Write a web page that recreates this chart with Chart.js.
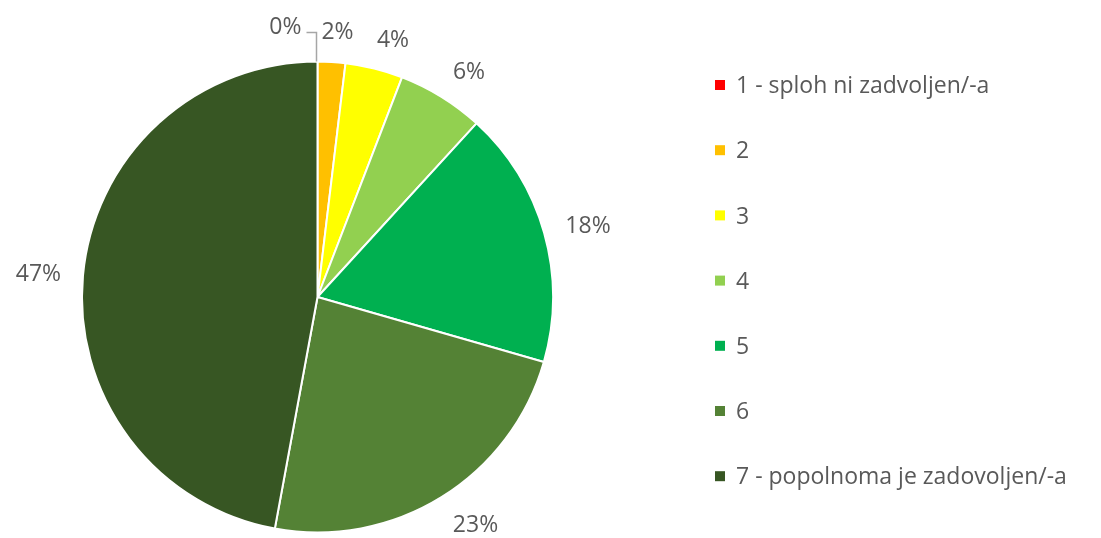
<!DOCTYPE html>
<html><head><meta charset="utf-8">
<script src="https://cdn.jsdelivr.net/npm/chart.js@4/dist/chart.umd.min.js"></script>
<style>html,body{margin:0;padding:0;background:#fff;}#wrap{width:1101px;height:538px;position:relative;}</style>
</head><body><div id="wrap"><canvas id="c" width="1101" height="538"></canvas></div>
<script>
const categories = ['1 - sploh ni zadvoljen/-a','2','3','4','5','6','7 - popolnoma je zadovoljen/-a'];
const values = [0, 1.9, 3.95, 5.95, 17.65, 23.45, 47.1];
const valueLabels = ['0%','2%','4%','6%','18%','23%','47%'];
const colors = ['#FF0000','#FFC000','#FFFF00','#92D050','#00B050','#548235','#375623'];

const FONT = '"Open Sans", sans-serif';
const TEXT = '#595959';
const FS = 23;
const CAP = FS * 0.714;

const labelPlugin = {
  id: 'outLabels',
  afterDatasetsDraw(chart) {
    const ctx = chart.ctx;
    const meta = chart.getDatasetMeta(0);
    ctx.save();
    ctx.font = FS + 'px ' + FONT;
    ctx.fillStyle = TEXT;
    ctx.textAlign = 'center';
    ctx.textBaseline = 'alphabetic';
    meta.data.forEach((arc, i) => {
      const p = arc.getProps(['x','y','startAngle','endAngle','outerRadius'], true);
      const mid = (p.startAngle + p.endAngle) / 2;
      const txt = valueLabels[i];
      const w = ctx.measureText(txt).width, h = 18;
      const dx = Math.cos(mid), dy = Math.sin(mid);
      if (values[i] === 0) {
        const x0 = p.x + dx * p.outerRadius, y0 = p.y + dy * p.outerRadius;
        const y1 = y0 - 29;
        ctx.strokeStyle = '#A6A6A6'; ctx.lineWidth = 1.5;
        ctx.beginPath(); ctx.moveTo(x0 - 1, y0); ctx.lineTo(x0 - 1, y1); ctx.lineTo(x0 - 11, y1); ctx.stroke();
        ctx.fillText(txt, x0 - 16 - w / 2, y1 - 7 + CAP / 2);
        return;
      }
      const r = p.outerRadius + 22;
      const a = Math.tanh(Math.abs(dx) * 5) * Math.sign(dx);
      const cx = p.x + dx * r + a * w / 2;
      const cy = p.y + dy * r + dy * h / 2;
      ctx.fillText(txt, cx, cy + CAP / 2);
    });
    ctx.restore();
  }
};

const legendPlugin = {
  id: 'sideLegend',
  afterDraw(chart) {
    const ctx = chart.ctx;
    ctx.save();
    ctx.font = FS + 'px ' + FONT;
    ctx.textBaseline = 'alphabetic';
    ctx.textAlign = 'left';
    chart.data.labels.forEach((lab, i) => {
      const y = 85 + i * 65.2;
      ctx.fillStyle = chart.data.datasets[0].backgroundColor[i];
      ctx.fillRect(715, y - 5, 10, 10);
      ctx.fillStyle = TEXT;
      ctx.fillText(lab, 736, y + CAP / 2);
    });
    ctx.restore();
  }
};

new Chart(document.getElementById('c'), {
  type: 'pie',
  data: { labels: categories, datasets: [{ data: values, backgroundColor: colors, borderColor: '#FFFFFF', borderWidth: 2 }] },
  options: {
    responsive: false, animation: false,
    layout: { padding: { left: 81, top: 60, right: 547, bottom: 4 } },
    plugins: { legend: { display: false }, tooltip: { enabled: false } }
  },
  plugins: [labelPlugin, legendPlugin]
});
</script></body></html>
